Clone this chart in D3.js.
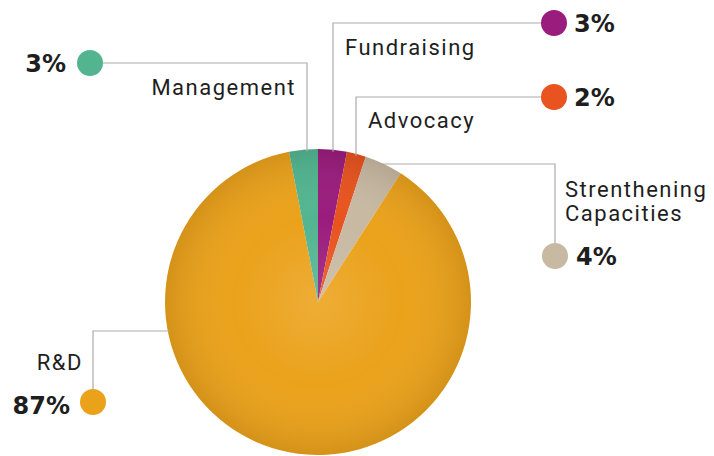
<!DOCTYPE html>
<html>
<head>
<meta charset="utf-8">
<script src="https://cdn.jsdelivr.net/npm/d3@7"></script>
<style>
  html, body { margin: 0; padding: 0; background: #fff; }
  svg { display: block; }
  .lbl { font-family: Roboto, "DejaVu Sans", sans-serif; font-size: 22px; font-weight: 400; fill: #1e1e1e; letter-spacing: 1.5px; }
  .pct { font-family: "DejaVu Sans", Roboto, sans-serif; font-size: 24px; font-weight: 700; fill: #1e1e1e; }
</style>
</head>
<body>
<svg id="chart" width="714" height="456"></svg>
<script>
// Budget split by activity (percent)
const categories = ["Fundraising", "Advocacy", "Strenthening\nCapacities", "R&D", "Management"];
const values = [3, 2, 4, 87, 3];
const valueLabels = ["3%", "2%", "4%", "87%", "3%"];
const colors = ["#9a1c7d", "#e8531f", "#c8b9a2", "#eba21b", "#52b590"];

const svg = d3.select("#chart");
const cx = 318, cy = 302, R = 153;

const defs = svg.append("defs");
const shade = defs.append("radialGradient").attr("id", "shade")
  .attr("cx", "50%").attr("cy", "50%").attr("r", "50%");
shade.append("stop").attr("offset", "0%").attr("stop-color", "#fff").attr("stop-opacity", 0.12);
shade.append("stop").attr("offset", "55%").attr("stop-color", "#fff").attr("stop-opacity", 0.0);
shade.append("stop").attr("offset", "100%").attr("stop-color", "#000").attr("stop-opacity", 0.1);

const pie = d3.pie().sort(null).value(d => d)
  .startAngle(0).endAngle(2 * Math.PI);
const arcs = pie(values);
const arc = d3.arc().innerRadius(0).outerRadius(R);

const g = svg.append("g").attr("transform", `translate(${cx},${cy})`);
g.selectAll("path.slice").data(arcs).join("path")
  .attr("class", "slice")
  .attr("d", arc)
  .attr("fill", (d, i) => colors[i]);
g.append("circle").attr("r", R).attr("fill", "url(#shade)");

// Leader line routes: elbow position and dot position for each slice
const leaders = [
  { i: 0, elbow: "v", x: 333, y: 23, dot: [554, 23] },
  { i: 1, elbow: "v", x: 356, y: 97, dot: [554, 97] },
  { i: 2, elbow: "h", x: 555, y: 164, dot: [555, 256] },
  { i: 3, elbow: "h", x: 93, y: 331, dot: [93, 402] },
  { i: 4, elbow: "v", x: 307, y: 63, dot: [90, 63] }
];

const lines = svg.append("g").attr("fill", "none").attr("stroke", "#ababab").attr("stroke-width", 1.2);
leaders.forEach(l => {
  let pts;
  if (l.elbow === "v") {
    // vertical line rising from the rim at x, then horizontal to the dot
    const yRim = cy - Math.sqrt(R * R - (l.x - cx) * (l.x - cx)) + 2;
    pts = [[l.x, yRim], [l.x, l.y], l.dot];
  } else {
    // horizontal line leaving the rim at y, then vertical to the dot
    const dx = Math.sqrt(R * R - (l.y - cy) * (l.y - cy)) - 2;
    const xRim = l.x > cx ? cx + dx : cx - dx;
    pts = [[xRim, l.y], [l.x, l.y], l.dot];
  }
  lines.append("path").attr("d", d3.line()(pts));
});

const dots = svg.append("g");
leaders.forEach(l => {
  dots.append("circle").attr("cx", l.dot[0]).attr("cy", l.dot[1]).attr("r", 13)
    .attr("fill", colors[l.i]);
});

// Category names
const nameSpecs = [
  { i: 0, x: 345, y: 55, anchor: "start" },
  { i: 1, x: 368, y: 128, anchor: "start" },
  { i: 2, x: 565, y: 197, anchor: "start" },
  { i: 3, x: 83, y: 370, anchor: "end" },
  { i: 4, x: 296, y: 95, anchor: "end" }
];
nameSpecs.forEach(s => {
  const t = svg.append("text").attr("class", "lbl")
    .attr("x", s.x).attr("y", s.y).attr("text-anchor", s.anchor);
  categories[s.i].split("\n").forEach((line, k) => {
    t.append("tspan").attr("x", s.x).attr("dy", k === 0 ? 0 : 24).text(line);
  });
});

// Percentage labels
const pctSpecs = [
  { i: 0, x: 574, y: 32, anchor: "start" },
  { i: 1, x: 574, y: 106, anchor: "start" },
  { i: 2, x: 576, y: 265, anchor: "start" },
  { i: 3, x: 70, y: 414, anchor: "end" },
  { i: 4, x: 66, y: 72, anchor: "end" }
];
pctSpecs.forEach(s => {
  svg.append("text").attr("class", "pct")
    .attr("x", s.x).attr("y", s.y).attr("text-anchor", s.anchor)
    .text(valueLabels[s.i]);
});
</script>
</body>
</html>
